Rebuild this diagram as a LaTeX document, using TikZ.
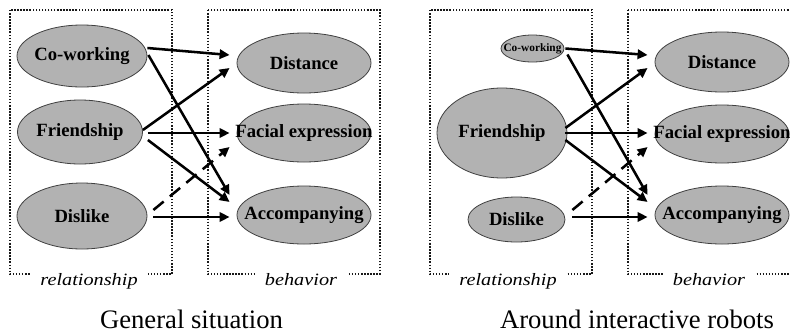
\documentclass[tikz,border=0pt]{standalone}
\usepackage{fontspec}
\setmainfont{Liberation Serif}
\usetikzlibrary{arrows.meta,calc,shapes.geometric}

\begin{document}
\begin{tikzpicture}[x=0.75pt,y=-0.75pt,
  oval/.style={ellipse, draw=black!75, line width=0.6pt, fill=black!30,
    inner sep=0pt, font=\fontsize{14}{16}\selectfont\bfseries},
  sz/.style 2 args={minimum width=#1*0.75pt, minimum height=#2*0.75pt},
  group/.style={draw=black!90, line width=1.2pt, dash pattern=on 1.1pt off 1.2pt},
  grouplabel/.style={fill=white, inner xsep=7.5pt, inner ysep=1pt,
    font=\fontsize{13}{15}\selectfont\itshape, anchor=base},
  link/.style={line width=1.9pt, -{Triangle[length=7.5pt,width=7pt]}},
  weaklink/.style={link, dash pattern=on 10pt off 6pt},
  caption/.style={font=\fontsize{20}{24}\selectfont, anchor=base}]

\clip (0,0) rectangle (790,333);
\fill[white] (0,0) rectangle (790,333);

% ---------- General situation ----------
\draw[group] (10,10) rectangle (172,274);
\draw[group] (208,10) rectangle (380,274);
\node[grouplabel] (rel1) at (89,285) {\scalebox{1.17}[1]{relationship}};
\node[grouplabel] (beh1) at (301,285) {\scalebox{1.17}[1]{behavior}};

\node[oval, sz={130}{62}] (cw1)  at (82,56)  {\makebox[0pt]{Co-working}};
\node[oval, sz={125}{64}] (fr1)  at (80,132) {\makebox[0pt]{Friendship}};
\node[oval, sz={130}{66}] (dis1) at (82,216) {\makebox[0pt]{Dislike}};

\node[oval, sz={134}{60}] (dist1) at (304,63)  {\makebox[0pt]{Distance}};
\node[oval, sz={134}{58}] (fac1)  at (304,133) {\makebox[0pt]{Facial expression}};
\node[oval, sz={134}{58}] (acc1)  at (304,215) {\makebox[0pt]{Accompanying}};

\draw[link] ($(cw1.east)+(0,-8)$) -- ($(dist1.west)+(-7,-8)$);
\draw[link] ($(cw1.east)+(1,-1)$) -- ($(acc1.west)+(-7,-20)$);
\draw[link] ($(fr1.east)+(0,-2)$) -- ($(dist1.west)+(-7,5)$);
\draw[link] ($(fr1.east)+(5,1)$)  -- ($(fac1.west)+(-7,0)$);
\draw[link] ($(fr1.east)+(5,8)$)  -- ($(acc1.west)+(-7,-13)$);
\draw[weaklink] ($(dis1.east)+(6,-6)$) -- ($(fac1.west)+(-7,14)$);
\draw[link] ($(dis1.east)+(6,1)$) -- ($(acc1.west)+(-7,2)$);

\node[caption] (cap1) at (191.5,328) {General situation};

% ---------- Around interactive robots ----------
\draw[group] (430,10) rectangle (592,274);
\draw[group] (628,10) rectangle (800,274);
\node[grouplabel] (rel2) at (508,285) {\scalebox{1.17}[1]{relationship}};
\node[grouplabel] (beh2) at (709,285) {\scalebox{1.17}[1]{behavior}};

\node[oval, sz={63}{27}, font=\fontsize{8.5}{10}\selectfont\bfseries] (cw2) at (532.5,48.5) {\makebox[0pt]{Co-working}};
\node[oval, sz={130}{90}] (fr2)  at (502,133)   {\makebox[0pt]{Friendship}};
\node[oval, sz={97}{45}]  (dis2) at (516.5,219.5) {\makebox[0pt]{Dislike}};

\node[oval, sz={134}{60}] (dist2) at (722,62)  {\makebox[0pt]{Distance}};
\node[oval, sz={134}{58}] (fac2)  at (722,134) {\makebox[0pt]{Facial expression}};
\node[oval, sz={134}{58}] (acc2)  at (722,215) {\makebox[0pt]{Accompanying}};

\draw[link] ($(cw2.east)+(1,0)$)  -- ($(dist2.west)+(-7,-7)$);
\draw[link] ($(cw2.east)+(3,6)$)  -- ($(acc2.west)+(-7,-20)$);
\draw[link] ($(fr2.east)+(-2,-5)$) -- ($(dist2.west)+(-7,6)$);
\draw[link] ($(fr2.east)+(-2,0)$) -- ($(fac2.west)+(-7,-1)$);
\draw[link] ($(fr2.east)+(-2,7)$) -- ($(acc2.west)+(-7,-13)$);
\draw[weaklink] ($(dis2.east)+(7,-9.5)$) -- ($(fac2.west)+(-7,13)$);
\draw[link] ($(dis2.east)+(7,-2.5)$) -- ($(acc2.west)+(-7,2)$);

\node[caption] (cap2) at (637,328) {Around interactive robots};
\end{tikzpicture}
\end{document}
